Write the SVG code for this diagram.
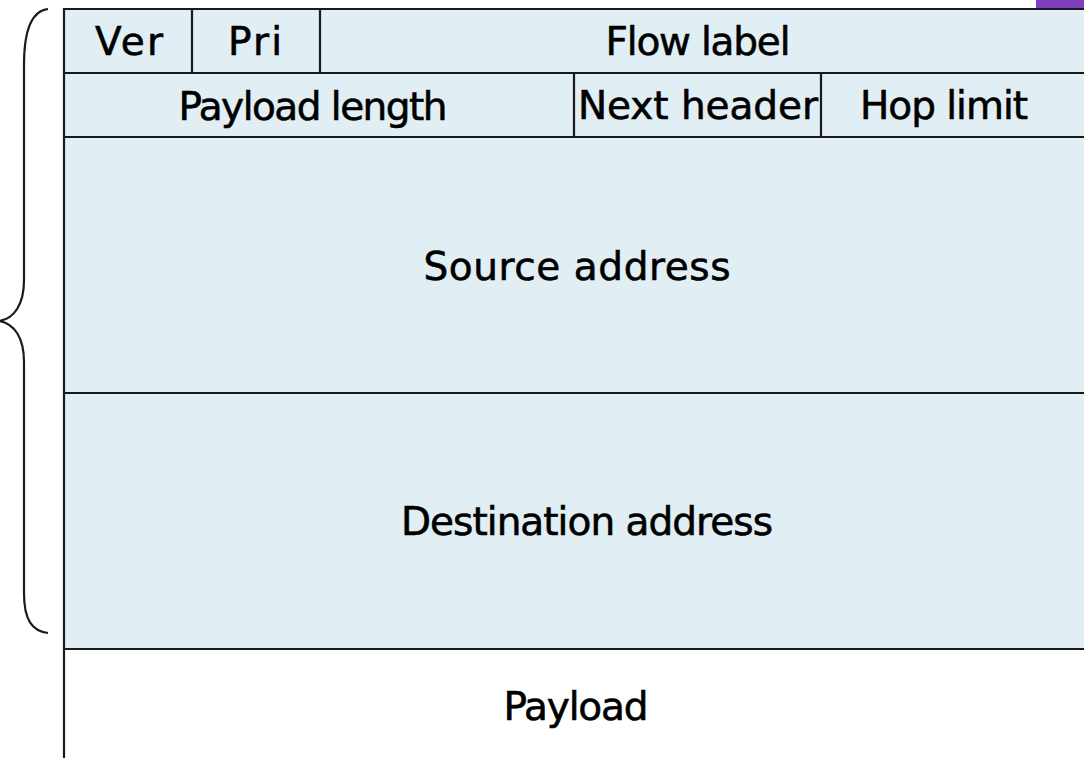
<svg xmlns="http://www.w3.org/2000/svg" width="1084" height="759" viewBox="0 0 1084 759">
<style>
.cell{fill:#e1eef4;stroke:none}
.ln{stroke:#1a1a1a;stroke-width:2.2;fill:none}
.t{font-family:"DejaVu Sans","Liberation Sans",sans-serif;font-size:39px;fill:#000;stroke:#000;stroke-width:0.6;text-anchor:middle}
</style>
<rect x="0" y="0" width="1084" height="759" fill="#fff"/>
<rect x="1036" y="0" width="48" height="9" fill="#7f3fbf"/>
<g id="header">
<rect class="cell" x="64" y="9" width="1020" height="640"/>
</g>
<g id="ver"><text class="t" x="129" y="55" textLength="68" lengthAdjust="spacing">Ver</text></g>
<g id="pri"><text class="t" x="255" y="55" textLength="54" lengthAdjust="spacing">Pri</text></g>
<g id="flow"><text class="t" x="698" y="55" textLength="185" lengthAdjust="spacing">Flow label</text></g>
<g id="paylen"><text class="t" x="313" y="120" textLength="269" lengthAdjust="spacing">Payload length</text></g>
<g id="next"><text class="t" x="698" y="119" textLength="240" lengthAdjust="spacing">Next header</text></g>
<g id="hop"><text class="t" x="944" y="119" textLength="168" lengthAdjust="spacing">Hop limit</text></g>
<g id="src"><text class="t" x="577" y="280" textLength="307" lengthAdjust="spacing">Source address</text></g>
<g id="dst"><text class="t" x="587" y="535" textLength="372" lengthAdjust="spacing">Destination address</text></g>
<g id="payload"><text class="t" x="576" y="720" textLength="145" lengthAdjust="spacing">Payload</text></g>
<g id="connectors">
<path class="ln" d="M64 9H1084M64 73H1084M64 137H1084M64 393H1084M64 649H1084"/>
<path class="ln" d="M64 8V758M192 9V73M320 9V73M574 73V137M821 73V137"/>
<path class="ln" d="M48 9C30 11 24 35 24 65V280C24 305 14 318 0 321C14 324 24 337 24 362V593C24 620 32 631 48 633"/>
</g>
</svg>
